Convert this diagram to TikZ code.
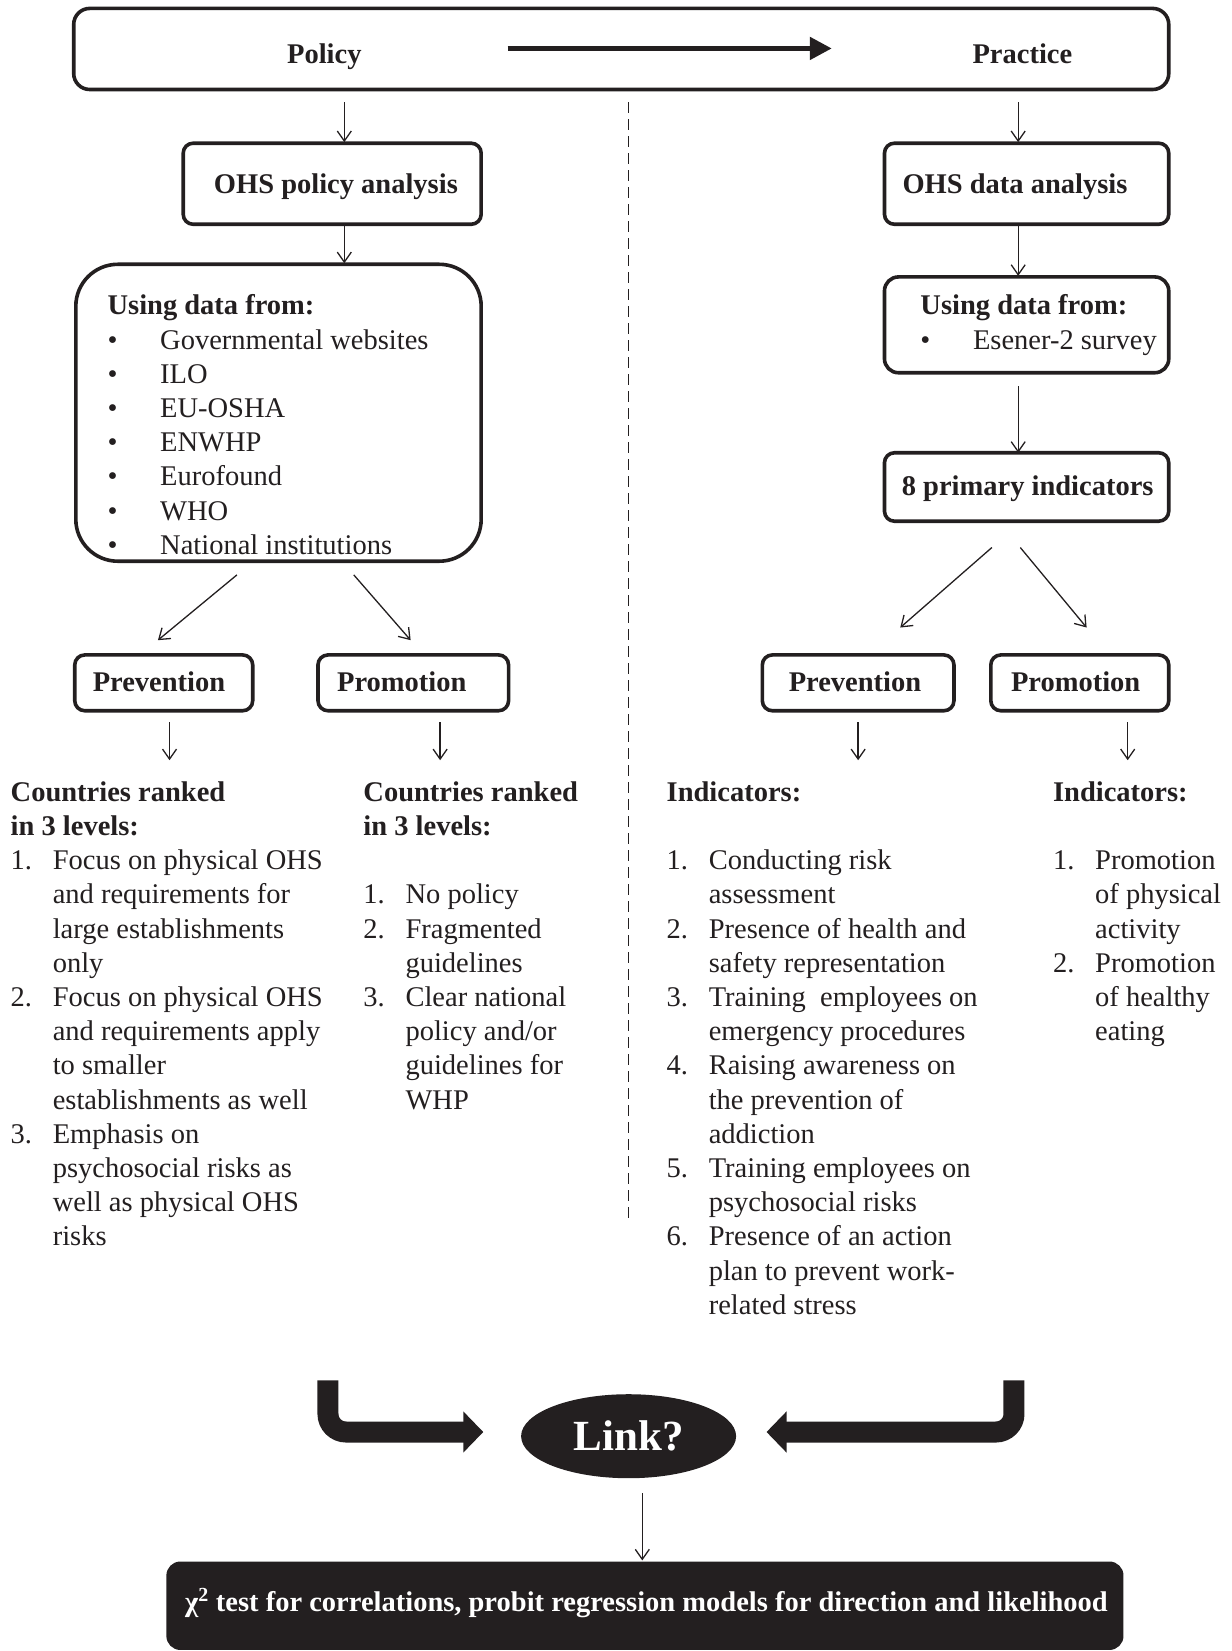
\documentclass[tikz,border=0pt]{standalone}
\usepackage{fontspec}
\setmainfont{Liberation Serif}
\usetikzlibrary{arrows.meta,fit,shapes.geometric}
\definecolor{ink}{HTML}{231F20}
\newcommand\myli[1]{\makebox[42.1pt][l]{#1}}
\newcommand\myind{\hspace*{42.1pt}}
\newcommand\mybul{\makebox[52.6pt][l]{•}}
\begin{document}
\begin{tikzpicture}[x=1.053pt,y=-1.053pt,
 txt/.style={font=\fontsize{28.5}{34.2}\selectfont, text=ink, inner sep=0pt, align=left},
 btxt/.style={font=\fontsize{28.5}{34.2}\selectfont\bfseries, text=ink, inner sep=0pt},
 bx/.style={draw=ink, line width=3.6pt, rounded corners=10pt, inner sep=0pt},
 conn/.style={draw=ink, line width=1.3pt, -{Straight Barb[length=10pt,width=14pt]}},
 bigarr/.style={draw=ink, line width=21pt, rounded corners=18pt, -{Triangle[length=20pt,width=40pt]}},
]
\useasboundingbox (0,0) rectangle (1170,1568);

% top band
\node[bx, fit={(70,8)(1110,85)}, rounded corners=16pt] (top) {};
\node[btxt, anchor=base] (tpol) at (308,60) {Policy};
\node[btxt, anchor=base] (tpra) at (971,60) {Practice};
\coordinate (ta1) at (482,46); \coordinate (ta2) at (790,46);
\draw[ink, line width=5pt, -{Triangle[length=22pt,width=22pt]}] (ta1) -- (ta2);

% dashed divider
\coordinate (d1) at (597,97); \coordinate (d2) at (597,1160);
\draw[ink, line width=1.2pt, dash pattern=on 11pt off 6pt] (d1) -- (d2);

% left side boxes (multi-line nodes: base anchor = last line's baseline)
\node[bx, fit={(174,136)(457,213)}] (opa) {};
\node[btxt, anchor=base] (opat) at (319,184) {OHS policy analysis};
\node[bx, fit={(72,251)(457,533)}, rounded corners=42pt] (udl) {};
\node[txt, anchor=base west] (udlt) at (102,526.4) {\textbf{Using data from:}\\
\mybul Governmental websites\\
\mybul ILO\\
\mybul EU-OSHA\\
\mybul ENWHP\\
\mybul Eurofound\\
\mybul WHO\\
\mybul National institutions};
\node[bx, fit={(71,622)(240,675)}] (prevL) {};
\node[btxt, anchor=base] (prevLt) at (151,657) {Prevention};
\node[bx, fit={(302,622)(483,675)}] (promL) {};
\node[btxt, anchor=base west] (promLt) at (320,657) {Promotion};

% right side boxes
\node[bx, fit={(840,136)(1110,213)}] (oda) {};
\node[btxt, anchor=base west] (odat) at (857,184) {OHS data analysis};
\node[bx, fit={(840,263)(1110,354)}, rounded corners=14pt] (udr) {};
\node[txt, anchor=base west] (udrt) at (874,331.5) {\textbf{Using data from:}\\
\mybul Esener-2 survey};
\node[bx, fit={(840,430)(1110,495)}] (pri) {};
\node[btxt, anchor=base] (prit) at (976,471) {8 primary indicators};
\node[bx, fit={(724,622)(906,675)}] (prevR) {};
\node[btxt, anchor=base] (prevRt) at (812,657) {Prevention};
\node[bx, fit={(941,622)(1110,675)}] (promR) {};
\node[btxt, anchor=base west] (promRt) at (960,657) {Promotion};

% text columns
\node[txt, anchor=base west] (colA) at (10,1183.2) {\textbf{Countries ranked}\\
\textbf{in 3 levels:}\\
\myli{1.}Focus on physical OHS\\
\myind and requirements for\\
\myind large establishments\\
\myind only\\
\myli{2.}Focus on physical OHS\\
\myind and requirements apply\\
\myind to smaller\\
\myind establishments as well\\
\myli{3.}Emphasis on\\
\myind psychosocial risks as\\
\myind well as physical OHS\\
\myind risks};
\node[txt, anchor=base west] (colB) at (345,1053.3) {\textbf{Countries ranked}\\
\textbf{in 3 levels:}\\[34.2pt]
\myli{1.}No policy\\
\myli{2.}Fragmented\\
\myind guidelines\\
\myli{3.}Clear national\\
\myind policy and/or\\
\myind guidelines for\\
\myind WHP};
\node[txt, anchor=base west] (colC) at (633,1248.2) {\textbf{Indicators:}\\[34.2pt]
\myli{1.}Conducting risk\\
\myind assessment\\
\myli{2.}Presence of health and\\
\myind safety representation\\
\myli{3.}Training\ \ employees on\\
\myind emergency procedures\\
\myli{4.}Raising awareness on\\
\myind the prevention of\\
\myind addiction\\
\myli{5.}Training employees on\\
\myind psychosocial risks\\
\myli{6.}Presence of an action\\
\myind plan to prevent work-\\
\myind related stress};
\node[txt, anchor=base west] (colD) at (1000,988.4) {\textbf{Indicators:}\\[34.2pt]
\myli{1.}Promotion\\
\myind of physical\\
\myind activity\\
\myli{2.}Promotion\\
\myind of healthy\\
\myind eating};

% thin connectors
\coordinate (a1s) at (327,97);  \coordinate (a1e) at (327,135);
\coordinate (a2s) at (327,215); \coordinate (a2e) at (327,250);
\coordinate (a3s) at (967,97);  \coordinate (a3e) at (967,135);
\coordinate (a4s) at (967,215); \coordinate (a4e) at (967,262);
\coordinate (a5s) at (967,367); \coordinate (a5e) at (967,430);
\coordinate (a6s) at (225,546); \coordinate (a6e) at (150,608);
\coordinate (a7s) at (336,546); \coordinate (a7e) at (390,608);
\coordinate (a8s) at (942,520); \coordinate (a8e) at (855,596);
\coordinate (a9s) at (969,520); \coordinate (a9e) at (1032,596);
\coordinate (a10s) at (161,686); \coordinate (a10e) at (161,722);
\coordinate (a11s) at (418,686); \coordinate (a11e) at (418,722);
\coordinate (a12s) at (815,686); \coordinate (a12e) at (815,722);
\coordinate (a13s) at (1071,686); \coordinate (a13e) at (1071,722);
\coordinate (a14s) at (610,1418); \coordinate (a14e) at (610,1482);
\foreach \i in {1,...,14} {\draw[conn] (a\i s) -- (a\i e);}

% link ellipse and bent arrows
\node[ellipse, fill=ink, minimum width=215pt, minimum height=84pt, inner sep=0pt,
      text=white, font=\fontsize{43}{50}\selectfont\bfseries] (link) at (597,1364) {Link?};
\coordinate (bl1) at (311.5,1311); \coordinate (bl2) at (459,1360);
\coordinate (br1) at (963,1311);   \coordinate (br2) at (728,1360);
\draw[bigarr] (bl1) |- (bl2);
\draw[bigarr] (br1) |- (br2);

% result box
\node[fit={(158,1483)(1067,1567)}, fill=ink, rounded corners=14pt, inner sep=0pt] (res) {};
\node[btxt, text=white, anchor=base] (rest) at (614,1530) {χ\textsuperscript{2} test for correlations, probit regression models for direction and likelihood};
\end{tikzpicture}
\end{document}
